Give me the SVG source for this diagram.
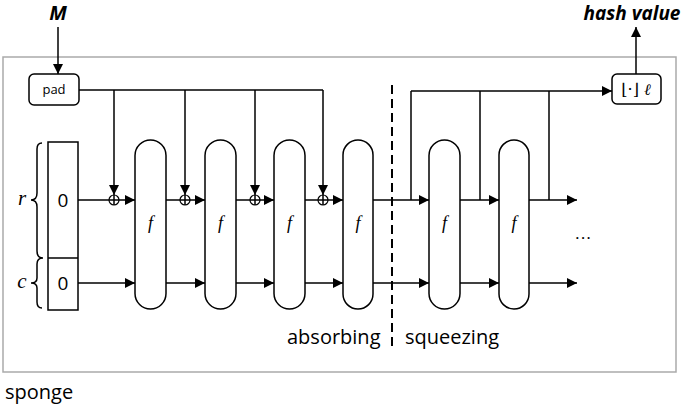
<svg xmlns="http://www.w3.org/2000/svg" width="685" height="405" viewBox="0 0 685 405">
<defs>
<marker id="ah" viewBox="0 0 10 10" refX="10" refY="5" markerWidth="10" markerHeight="10" markerUnits="userSpaceOnUse" orient="auto"><path d="M0,0 L10,5 L0,10 z" fill="#000"/></marker>
<style>
.ln{stroke:#000;stroke-width:1.5;fill:none}
.ar{stroke:#000;stroke-width:1.5;fill:none;marker-end:url(#ah)}
.fn{fill:#fff;stroke:#000;stroke-width:1.5}
.ft{font-family:"Liberation Serif",serif;font-style:italic;font-size:18px;text-anchor:middle}
.lbl{font-family:"Open Sans","Liberation Sans",sans-serif;font-size:20px;fill:#000}
.xor{fill:#fff;stroke:#000;stroke-width:1.2}
</style>
</defs>
<rect x="0" y="0" width="685" height="405" fill="#fff"/>
<rect x="3" y="57" width="673" height="315" fill="#fff" stroke="#aaa" stroke-width="1.5"/>

<g id="connectors">
<line class="ar" x1="58" y1="27" x2="58" y2="74"/>
<polyline class="ln" points="79,90 323,90"/>
<line class="ar" x1="114" y1="90" x2="114" y2="195"/>
<line class="ar" x1="185" y1="90" x2="185" y2="195"/>
<line class="ar" x1="255" y1="90" x2="255" y2="195"/>
<line class="ar" x1="323" y1="90" x2="323" y2="195"/>
<line class="ln" x1="78" y1="200" x2="109" y2="200"/>
<line class="ar" x1="119" y1="200" x2="135" y2="200"/>
<line class="ln" x1="166" y1="200" x2="180" y2="200"/>
<line class="ar" x1="190" y1="200" x2="205" y2="200"/>
<line class="ln" x1="236" y1="200" x2="250" y2="200"/>
<line class="ar" x1="260" y1="200" x2="274" y2="200"/>
<line class="ln" x1="305" y1="200" x2="318" y2="200"/>
<line class="ar" x1="328" y1="200" x2="343" y2="200"/>
<line class="ar" x1="373" y1="200" x2="429" y2="200"/>
<line class="ar" x1="460" y1="200" x2="499" y2="200"/>
<line class="ar" x1="529" y1="200" x2="577" y2="200"/>
<line class="ar" x1="78" y1="283" x2="135" y2="283"/>
<line class="ar" x1="166" y1="283" x2="205" y2="283"/>
<line class="ar" x1="236" y1="283" x2="274" y2="283"/>
<line class="ar" x1="305" y1="283" x2="343" y2="283"/>
<line class="ar" x1="373" y1="283" x2="429" y2="283"/>
<line class="ar" x1="460" y1="283" x2="499" y2="283"/>
<line class="ar" x1="529" y1="283" x2="577" y2="283"/>
<polyline class="ln" points="411,200 411,91"/>
<line class="ar" x1="411" y1="91" x2="612" y2="91"/>
<line class="ln" x1="480" y1="200" x2="480" y2="91"/>
<line class="ln" x1="549" y1="200" x2="549" y2="91"/>
<line class="ar" x1="636" y1="74" x2="636" y2="27"/>
<line x1="392" y1="85" x2="392" y2="348" stroke="#000" stroke-width="2" stroke-dasharray="9,5"/>
</g>

<g id="xors">
<g id="xor1"><circle class="xor" cx="114" cy="200" r="5"/><path class="ln" d="M109,200 H119 M114,195 V205" stroke-width="1.2"/></g>
<g id="xor2"><circle class="xor" cx="185" cy="200" r="5"/><path class="ln" d="M180,200 H190 M185,195 V205" stroke-width="1.2"/></g>
<g id="xor3"><circle class="xor" cx="255" cy="200" r="5"/><path class="ln" d="M250,200 H260 M255,195 V205" stroke-width="1.2"/></g>
<g id="xor4"><circle class="xor" cx="323" cy="200" r="5"/><path class="ln" d="M318,200 H328 M323,195 V205" stroke-width="1.2"/></g>
</g>

<g id="M"><text x="58" y="20" font-family="Open Sans,Liberation Sans,sans-serif" font-size="20" font-weight="bold" font-style="italic" text-anchor="middle">M</text></g>

<g id="pad"><rect x="29" y="74" width="50" height="31" rx="5" fill="#fff" stroke="#000" stroke-width="1.5"/><text x="54" y="94" font-family="Open Sans,Liberation Sans,sans-serif" font-size="13" text-anchor="middle">pad</text></g>

<g id="state">
<rect x="48" y="142" width="30" height="168" fill="#fff" stroke="#000" stroke-width="1.5"/>
<line class="ln" x1="48" y1="258" x2="78" y2="258"/>
<text x="63" y="207" font-family="Open Sans,Liberation Sans,sans-serif" font-size="19" text-anchor="middle">0</text>
<text x="63" y="290" font-family="Open Sans,Liberation Sans,sans-serif" font-size="19" text-anchor="middle">0</text>
<path class="ln" d="M42,143 Q37,143 37,149 V193 Q37,200 31,200 Q37,200 37,207 V251 Q37,258 43,258 Q37,258 37,264 V278 Q37,283 31,283 Q37,283 37,288 V302 Q37,308 42,308" stroke-width="1.3"/>
<text x="22" y="205" font-family="Liberation Serif,serif" font-style="italic" font-size="21" text-anchor="middle">r</text>
<text x="22" y="288" font-family="Liberation Serif,serif" font-style="italic" font-size="21" text-anchor="middle">c</text>
</g>

<g id="f1"><rect class="fn" x="135" y="140" width="31" height="169" rx="15.5"/><text class="ft" x="150.5" y="229">f</text></g>
<g id="f2"><rect class="fn" x="205" y="140" width="31" height="169" rx="15.5"/><text class="ft" x="220.5" y="229">f</text></g>
<g id="f3"><rect class="fn" x="274" y="140" width="31" height="169" rx="15.5"/><text class="ft" x="289.5" y="229">f</text></g>
<g id="f4"><rect class="fn" x="343" y="140" width="30" height="169" rx="15"/><text class="ft" x="358" y="229">f</text></g>
<g id="f5"><rect class="fn" x="429" y="140" width="31" height="169" rx="15.5"/><text class="ft" x="444.5" y="229">f</text></g>
<g id="f6"><rect class="fn" x="499" y="140" width="30" height="169" rx="15"/><text class="ft" x="514" y="229">f</text></g>

<g id="trunc"><rect x="612" y="74" width="49" height="30" rx="5" fill="#fff" stroke="#000" stroke-width="1.5"/><text x="636" y="95" font-family="DejaVu Serif,Liberation Serif,serif" font-size="16" text-anchor="middle">⌊·⌋ <tspan font-style="italic">ℓ</tspan></text></g>

<g id="hash"><text x="632" y="20" font-family="Open Sans,Liberation Sans,sans-serif" font-size="19" font-weight="bold" font-style="italic" text-anchor="middle">hash value</text></g>

<text x="583" y="244" font-family="Liberation Serif,serif" font-size="17" text-anchor="middle">···</text>
<text class="lbl" x="287" y="344">absorbing</text>
<text class="lbl" x="405" y="344">squeezing</text>
<text class="lbl" x="5" y="399">sponge</text>
</svg>
